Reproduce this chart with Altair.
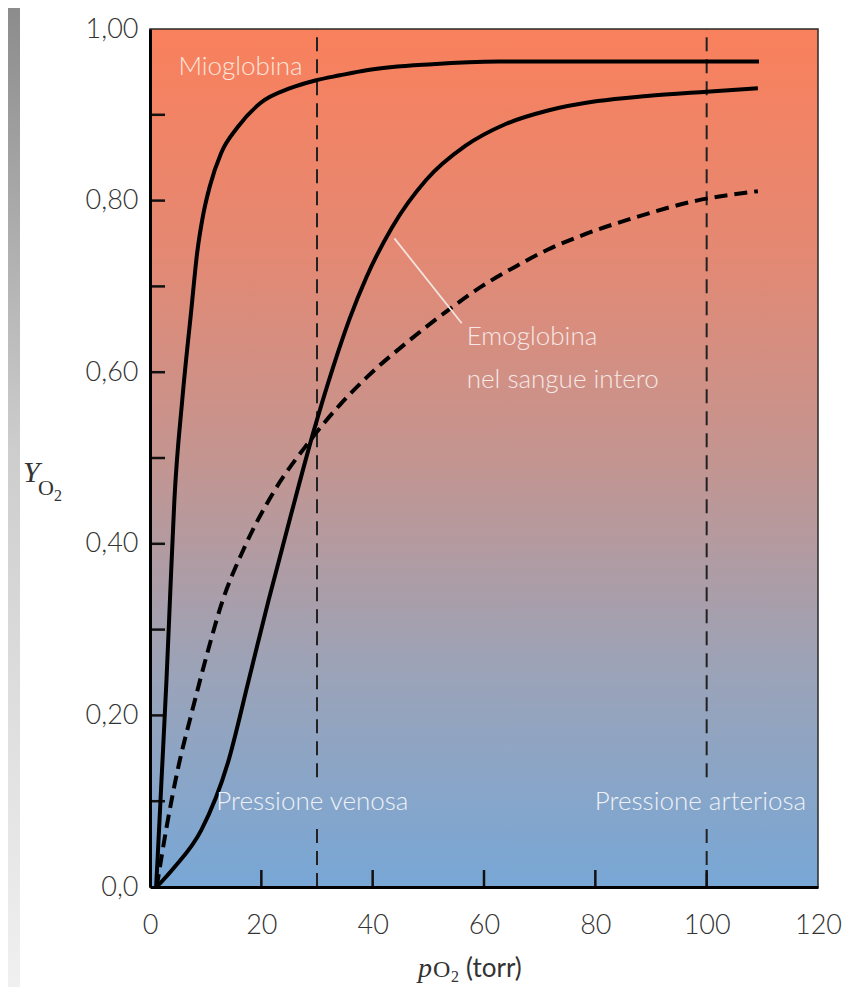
import altair as alt
import pandas as pd

# ---------------- data ----------------
# Mioglobina (solid, hyperbolic)
mb_x = [1.1, 1.35, 2.07, 2.96, 3.58, 4.38, 5.8, 7.41, 8.47, 9.54, 10.8, 12.75, 15.8,
        19.9, 25.2, 29.7, 34.1, 38.9, 50.7, 62.6, 80.4, 109.4]
mb_y = [0.0, 0.031, 0.125, 0.241, 0.334, 0.451, 0.568, 0.672, 0.739, 0.783, 0.818,
        0.855, 0.886, 0.914, 0.931, 0.940, 0.946, 0.952, 0.959, 0.962, 0.962, 0.962]

# Emoglobina nel sangue intero (solid, sigmoid)
hb_x = [1.2, 4.38, 9.19, 14.0, 17.73, 21.29, 25.21, 29.3, 32.9, 35.9, 38.9, 43.5, 49.6,
        56.7, 63.8, 71.5, 80.4, 89.3, 100.0, 109.2]
hb_y = [0.0, 0.023, 0.066, 0.145, 0.241, 0.334, 0.431, 0.529, 0.606, 0.663, 0.711,
        0.769, 0.824, 0.864, 0.889, 0.905, 0.916, 0.922, 0.927, 0.931]

# dashed curve
bl_x = [1.2, 2.96, 5.09, 7.41, 10.44, 12.75, 16.84, 22.18, 28.24, 34.11, 38.92,
        46.58, 53.7, 59.58, 65.63, 71.5, 77.4, 87.5, 98.2, 109.2]
bl_y = [0.0, 0.069, 0.140, 0.201, 0.276, 0.328, 0.394, 0.460, 0.516, 0.562, 0.594,
        0.637, 0.673, 0.700, 0.723, 0.743, 0.759, 0.781, 0.800, 0.811]

# reference pressures (dashed verticals)
ref_p = [30, 100]
gap_lo, gap_hi = 0.07, 0.128

x_ticks = [0, 20, 40, 60, 80, 100, 120]
x_inner_ticks = [20, 40, 60, 80, 100]
y_labels = [0.0, 0.2, 0.4, 0.6, 0.8, 1.0]
y_inner_ticks = [0.1, 0.2, 0.3, 0.4, 0.5, 0.6, 0.7, 0.8, 0.9]

labels_text = ["Mioglobina", "Emoglobina", "nel sangue intero", "Pressione venosa", "Pressione arteriosa"]
labels_x = [5.1, 56.9, 56.9, 11.9, 79.9]
labels_y = [0.956, 0.641, 0.591, 0.099, 0.099]
labels_col = ["#FCE6DD", "#F6E8E6", "#F6E8E6", "#EEF1F7", "#EEF1F7"]

leader_x = [43.9]; leader_y = [0.756]; leader_x2 = [56.0]; leader_y2 = [0.657]

# ---------------- layout ----------------
W, H = 668, 858
FONT = "Lato"
SERIF = "Liberation Serif"

xscale = alt.Scale(domain=[0, 120], nice=False, zero=False)
yscale = alt.Scale(domain=[0, 1], nice=False, zero=False)

xaxis = alt.Axis(values=x_ticks, ticks=False, grid=False, title=None,
                 domainColor="#000000", domainWidth=3,
                 labelFont=FONT, labelFontSize=27, labelFontWeight=300, labelColor="#333333",
                 labelPadding=25, labelFlush=False, labelOverlap=False,
                 format="d", zindex=2)
yaxis = alt.Axis(values=y_labels, ticks=False, grid=False, title=None,
                 domainColor="#000000", domainWidth=3,
                 labelFont=FONT, labelFontSize=27, labelFontWeight=300, labelColor="#333333",
                 labelPadding=12, labelFlush=False, labelOverlap=False,
                 labelExpr="datum.value == 0 ? '0,0' : replace(format(datum.value, '.2f'), '.', ',')",
                 zindex=2)


def X(f):
    return alt.X(f, scale=xscale, axis=xaxis)


def Y(f):
    return alt.Y(f, scale=yscale, axis=yaxis)


one = alt.Data(values=[{}])


def grad(stops):
    return alt.LinearGradient(
        gradient="linear", x1=0, x2=0, y1=0, y2=1,
        stops=[alt.GradientStop(color=c, offset=o) for o, c in stops])


gray = grad([(0, "#8c8c8c"), (0.45, "#cdcdcd"), (1, "#f0f0f0")])
strip_left = alt.Chart(one).mark_rect(fill=gray).encode(
    x=alt.value(-142), x2=alt.value(-130), y=alt.value(-21), y2=alt.value(958))

plot_bg = alt.Chart(one).mark_rect(
    fill=grad([(0, "#F9805C"), (0.25, "#E58872"), (0.5, "#C49590"),
               (0.75, "#9BA3B8"), (1, "#78A7D6")]),
    stroke="#2a2a2a", strokeWidth=1.5,
).encode(x=alt.value(0), x2=alt.value(W), y=alt.value(0), y2=alt.value(H))

# dashed verticals (interrupted behind the lower labels)
vr = pd.DataFrame({
    "p": [ref_p[0], ref_p[0], ref_p[1], ref_p[1]],
    "y0": [0.0, gap_hi, 0.0, gap_hi],
    "y1": [gap_lo, 1.0, gap_lo, 1.0],
})
vlines = alt.Chart(vr).mark_rule(color="#222222", strokeWidth=2, strokeDash=[14, 8]).encode(
    x=X("p:Q"), y=Y("y0:Q"), y2="y1:Q")

# inward ticks
yt = alt.Chart(pd.DataFrame({"v": y_inner_ticks})).mark_rule(color="#111111", strokeWidth=2.5).encode(
    y=Y("v:Q"), x=alt.value(0), x2=alt.value(15))
xt = alt.Chart(pd.DataFrame({"v": x_inner_ticks})).mark_rule(color="#111111", strokeWidth=2.5).encode(
    x=X("v:Q"), y=alt.value(H), y2=alt.value(H - 17))

# curves
solid = pd.DataFrame({
    "p": mb_x + hb_x,
    "y": mb_y + hb_y,
    "s": ["Mioglobina"] * len(mb_x) + ["Emoglobina"] * len(hb_x),
})
lines = alt.Chart(solid).mark_line(color="#000000", strokeWidth=4, interpolate="monotone").encode(
    x=X("p:Q"), y=Y("y:Q"), detail="s:N")

dashed = alt.Chart(pd.DataFrame({"p": bl_x, "y": bl_y})).mark_line(
    color="#000000", strokeWidth=4, strokeDash=[13, 7], interpolate="monotone").encode(
    x=X("p:Q"), y=Y("y:Q"))

leader = alt.Chart(pd.DataFrame({"x": leader_x, "y": leader_y, "x2": leader_x2, "y2": leader_y2})).mark_rule(
    color="#F4E4E0", strokeWidth=1.8).encode(
    x=X("x:Q"), y=Y("y:Q"), x2="x2:Q", y2="y2:Q")

labels = alt.Chart(pd.DataFrame({"t": labels_text, "x": labels_x, "y": labels_y, "c": labels_col})).mark_text(
    align="left", baseline="middle", font=FONT, fontSize=26, fontWeight=300).encode(
    x=X("x:Q"), y=Y("y:Q"), text="t:N", color=alt.Color("c:N", scale=None))


# axis titles built from pieces (italic symbol + subscript)
def txt(t, x, y, size, font, style="normal", align="left"):
    return alt.Chart(one).mark_text(text=t, font=font, fontSize=size, fontStyle=style,
                                    align=align, baseline="alphabetic", color="#333333").encode(
        x=alt.value(x), y=alt.value(y))


ytitle = [txt("Y", -127, 453, 30, SERIF, "italic"),
          txt("O", -112, 466, 22, SERIF),
          txt("2", -96, 472, 16, SERIF)]
xtitle = [txt("p", 268, 948, 28, SERIF, "italic"),
          txt("O", 283, 948, 24, SERIF),
          txt("2", 301, 953, 16, SERIF),
          txt("(torr)", 316, 948, 26, FONT)]

chart = alt.layer(
    strip_left, plot_bg, vlines, yt, xt, dashed, lines, leader, labels,
    *ytitle, *xtitle,
).properties(
    width=W, height=H,
    autosize=alt.AutoSizeParams(type="none"),
    padding={"left": 142, "top": 21, "right": 24, "bottom": 100},
    background="#ffffff",
).configure_view(stroke=None)

chart.save("out.html", embed_options={"renderer": "svg", "actions": False})
